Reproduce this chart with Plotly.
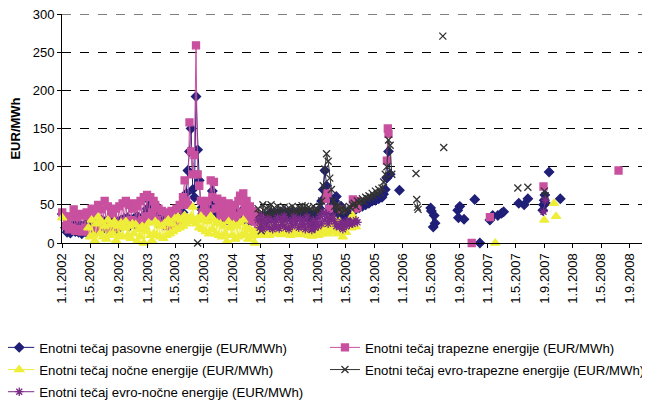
import pandas as pd
import plotly.graph_objects as go

# weekly prices (EUR/MWh); one row = one month
pas_start = '2002-01-01'
pas_weekly = [
    38, 36, 20, 14, 22,  13, 18, 25, 15,  20, 14, 24, 12,  22, 15, 26, 12, 20,
    25, 14, 28, 18,  26, 16, 30, 20,  28, 18, 30, 20, 27,  22, 30, 18, 28,
    20, 30, 24, 32,  25, 33, 22, 30, 26,  32, 24, 35, 28,  30, 22, 34, 38,
    45, 56, 40, 52, 35,  50, 30, 38, 28,  32, 25, 34, 28,  30, 24, 33, 27, 35,
    30, 38, 28, 36,  40, 55, 65, 95,  120, 150, 70, 60, 192,  122, 82, 45, 38,
    40, 32, 45, 36,  50, 68, 42, 55, 38,  45, 35, 40, 32,  38, 30, 42, 35,
    36, 30, 40, 34, 38,  35, 42, 30, 38,  32, 36, 28, 34,  30, 35, 28, 33, 30,
    32, 28, 35, 30,  36, 33, 40, 35, 38,  34, 39, 36, 41,  35, 38, 33, 40,
    37, 34, 40, 36, 39,  35, 41, 37, 40,  36, 42, 34, 39,  32, 26, 38, 34,
    36, 40, 45, 55, 70,  95, 75, 60, 45,  50, 38, 55, 61, 42,  35, 48, 30, 40,
    30, 38, 28, 36,  40, 28, 45, 48, 46,  50, 48, 52, 50,  54, 52, 56, 55,
    58, 56, 60, 58, 62,  60, 64, 70, 85,  120, 90,
]
pas_extra_dates = ['2005-12-18', None,
                   '2006-05-01', '2006-05-04', '2006-05-12', '2006-05-16', '2006-05-20', None,
                   '2006-08-25', '2006-08-28', '2006-09-03', None, '2006-09-21', None,
                   '2006-11-06', None, '2006-11-28', None,
                   '2007-01-10', '2007-01-22', None, '2007-02-13', None, '2007-03-01', '2007-03-10', None,
                   '2007-05-14', None, '2007-06-06', None, '2007-06-22', None,
                   '2007-08-25', '2007-08-28', '2007-08-31', '2007-09-03', '2007-09-06', None,
                   '2007-09-21', None, '2007-11-08']
pas_extra_vals = [69, None,
                  46, 42, 21, 36, 26, None,
                  43, 33, 48, None, 31, None,
                  57, None, 0, None,
                  30, 36, None, 36, None, 39, 41, None,
                  52, None, 50, None, 58, None,
                  43, 50, 56, 63, 52, None,
                  93, None, 58]

trap_start = '2002-01-01'
trap_weekly = [
    40, 35, 22, 30, 18,  35, 20, 44, 16,  34, 18, 38, 15,  36, 20, 40, 15, 35,
    45, 18, 42, 22,  50, 20, 44, 25,  55, 22, 48, 18, 42,  38, 20, 45, 25,
    48, 22, 52, 28,  55, 25, 50, 30, 45,  52, 28, 48, 25,  55, 30, 60, 35,
    63, 35, 60, 40, 55,  50, 30, 45, 25,  42, 25, 40, 22,  38, 22, 42, 25, 40,
    45, 28, 50, 32,  60, 82, 55, 50,  158, 120, 90, 115, 259,  90, 75, 55, 40,
    50, 35, 55, 40,  82, 60, 80, 45, 58,  50, 35, 55, 40,  48, 30, 52, 38,
    45, 30, 50, 35, 55,  62, 40, 65, 45,  55, 35, 48, 30,  42, 28, 38, 25, 35,
    30, 28,
]
trap_extra_dates = ['2005-02-05', '2005-02-12', '2005-02-19', None, '2005-04-12', None,
                    '2005-06-01', '2005-06-06', '2005-06-11', '2005-06-16', '2005-06-21', None,
                    '2005-10-25', '2005-10-29', '2005-11-01', None,
                    '2006-10-24', None, '2007-01-10', None, '2007-08-28', None, '2008-07-15']
trap_extra_vals = [58, 65, 45, None, 44, None,
                   57, 52, 45, 55, 47, None,
                   108, 150, 143, None,
                   0, None, 34, None, 74, None, 95]

noc_start = '2002-04-23'
noc_weekly = [
    20, 8,
    30, 10, 3, 25,  34, 12, 28, 8,  22, 5, 30, 10, 24,  12, 28, 3, 22,
    10, 26, 8, 20,  28, 10, 22, 6, 25,  12, 24, 2, 18,  8, 22, 0, 20,
    15, 26, 10, 3, 12,  28, 10, 24, 8,  22, 6, 26, 10,  30, 12, 25, 15, 32,
    18, 34, 20, 30,  22, 36, 25, 32,  28, 35, 47, 30, 25,  32, 20, 35, 18,
    30, 15, 28, 12,  35, 18, 30, 12, 26,  10, 25, 8, 22,  12, 2, 28, 20,
    10, 24, 5, 22, 8,  26, 10, 30, 12,  20, 5, 18, 8,  15, 0, 12, 18, 10,
    20, 12, 16, 10,  18, 10, 20, 12, 16,  22, 14, 20, 11,  18, 12, 21, 13,
    19, 10, 17, 12, 20,  14, 18, 11, 16,  20, 12, 18, 10,  16, 9, 14, 11,
    15, 10, 18, 12, 20,  14, 22, 12, 18,  25, 15, 30, 20, 12,  28, 18, 8, 22,
    14, 25, 21, 20,  36, 28, 21,
]
noc_extra_dates = ['2002-01-01', None, '2007-02-02', None, '2007-08-31', None,
                   '2007-10-12', None, '2007-10-21']
noc_extra_vals = [33, None, 0, None, 30, None, 52, None, 35]

etrap_start = '2004-04-20'
etrap_weekly = [
    45, 38,
    16, 50, 42, 35,  48, 36, 50, 37, 46,  40, 48, 37, 45,  26, 47, 36, 44,
    46, 38, 48, 40, 45,  38, 47, 41, 49,  42, 48, 40, 47,  45, 18, 48, 42,
    45, 40, 48, 55, 75,  97, 117, 107, 85,  70, 55, 48, 42, 50,  44, 40, 47, 42,
    45, 43, 48, 46,  50, 52, 48, 55, 52,  55, 58, 54, 60,  58, 62, 60, 65,
    62, 68, 64, 70, 66,  72, 80, 90, 100,  135, 128, 90,
]
etrap_extra_dates = ['2003-08-05', None, '2006-02-27', None, '2006-03-02', '2006-03-05', '2006-03-08', None,
                     '2006-06-22', None, '2006-06-26', None, '2007-05-10', None, '2007-06-22', None,
                     '2007-09-01', '2007-09-04']
etrap_extra_vals = [0, None, 91, None, 57, 47, 44, None,
                    271, None, 125, None, 72, None, 73, None,
                    68, 62]

enoc_start = '2004-04-20'
enoc_weekly = [
    30, 20,
    35, 18, 28, 22,  32, 20, 30, 18, 27,  22, 33, 19, 29,  24, 35, 20, 30,
    18, 28, 22, 34, 25,  30, 20, 32, 24,  28, 18, 34, 22,  26, 17, 30, 20,
    28, 22, 35, 25, 40,  30, 38, 25, 32,  30, 35, 28, 22, 24,  21, 28, 18, 25,
    22, 30, 24, 27,  25, 27, 30, 27,
]
enoc_extra_dates = ['2007-08-28', '2007-09-05']
enoc_extra_vals = [41, 56]

names = ['Enotni tečaj pasovne energije (EUR/MWh)',
         'Enotni tečaj trapezne energije (EUR/MWh)',
         'Enotni tečaj nočne energije (EUR/MWh)',
         'Enotni tečaj evro-trapezne energije (EUR/MWh)',
         'Enotni tečaj evro-nočne energije (EUR/MWh)']


def series(start, weekly, extra_dates, extra_vals):
    d = [x.strftime('%Y-%m-%d') for x in pd.date_range(start, periods=len(weekly), freq='7D')]
    return d + [None] + extra_dates, list(weekly) + [None] + extra_vals


data = [
    (series(pas_start, pas_weekly, pas_extra_dates, pas_extra_vals), '#1F1F78',
     dict(symbol='diamond', size=7), 'legend'),
    (series(trap_start, trap_weekly, trap_extra_dates, trap_extra_vals), '#C8509F',
     dict(symbol='square', size=7), 'legend2'),
    (series(noc_start, noc_weekly, noc_extra_dates, noc_extra_vals), '#EEEE3A',
     dict(symbol='triangle-up', size=8), 'legend'),
    (series(etrap_start, etrap_weekly, etrap_extra_dates, etrap_extra_vals), '#333333',
     dict(symbol='x-thin-open', size=7), 'legend2'),
    (series(enoc_start, enoc_weekly, enoc_extra_dates, enoc_extra_vals), '#7B2A85',
     dict(symbol='asterisk-open', size=7), 'legend'),
]

fig = go.Figure()
for i, (name, ((xs, ys), col, mk, leg)) in enumerate(zip(names, data)):
    fig.add_trace(go.Scatter(
        x=xs, y=ys, name=name, mode='lines+markers', cliponaxis=False,
        legend=leg, legendgroup='g%d' % i,
        line=dict(color=col, width=1),
        marker=dict(color=col, line=dict(color=col, width=1.3), **mk)))

# top gridline sits on the range edge, plotly skips it there
fig.add_hline(y=300, line_dash='dash', line_color='black', line_width=1, layer='below')

# the page body has an 8px margin, so the figure is drawn 8px smaller
leg_style = dict(orientation='v', xanchor='left', yanchor='top', y=-0.39,
                 font=dict(size=13.2), tracegroupgap=2,
                 bgcolor='rgba(0,0,0,0)', itemclick=False, itemdoubleclick=False)
fig.update_layout(
    width=642, height=396,
    margin=dict(l=54, r=7, t=6, b=161, autoexpand=False),
    plot_bgcolor='white', paper_bgcolor='white',
    font=dict(family='Arial, Liberation Sans, sans-serif', size=13, color='black'),
    showlegend=True,
    legend=dict(x=-0.108, **leg_style),
    legend2=dict(x=0.4526, **leg_style),
)
fig.update_xaxes(
    type='date', range=['2001-12-31', '2008-10-28'], automargin=False,
    tick0='2002-01-01', dtick='M4', tickformat='%-d.%-m.%Y', tickangle=-90,
    ticks='outside', ticklen=4, tickcolor='black',
    showline=True, linecolor='black', linewidth=1, showgrid=False, zeroline=False)
fig.update_yaxes(
    range=[0, 300], dtick=50, ticks='outside', ticklen=4, tickcolor='black', automargin=False,
    ticklabeloverflow='allow',
    showline=True, linecolor='black', linewidth=1, zeroline=False,
    showgrid=True, gridcolor='black', gridwidth=1, griddash='dash',
    title=dict(text='<b>EUR/MWh</b>', font=dict(size=13), standoff=15))

fig.write_html('out.html')
